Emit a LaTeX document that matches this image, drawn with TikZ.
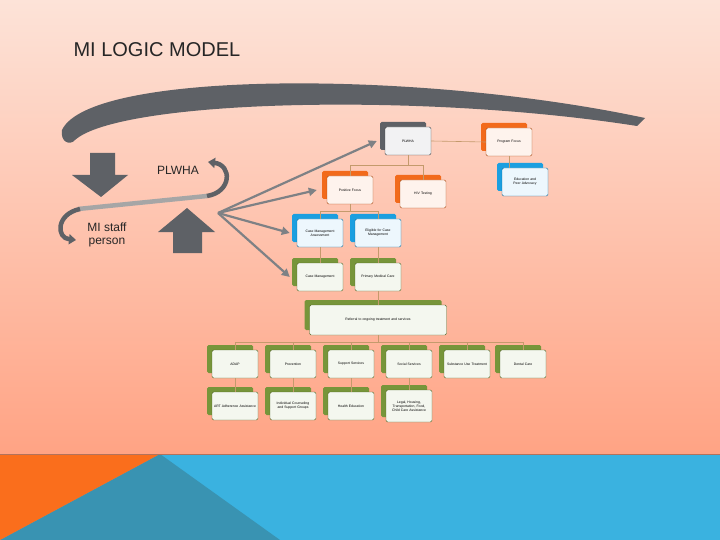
\documentclass[tikz,border=0pt]{standalone}
\usepackage{fontspec}
\setmainfont{Liberation Sans}
\usetikzlibrary{shadows,arrows.meta,calc}
\definecolor{bgtop}{HTML}{FDE3D8}
\definecolor{bgbot}{HTML}{FFA384}
\definecolor{cgray}{HTML}{5E6166}
\definecolor{corange}{HTML}{F26A1B}
\definecolor{cblue}{HTML}{1B9FE0}
\definecolor{cgreen}{HTML}{77953A}
\definecolor{tan}{HTML}{C49A6C}
\definecolor{sblue}{HTML}{3AB2E0}
\definecolor{dblue}{HTML}{3993B2}
\definecolor{sorange}{HTML}{FA6E1C}
\tikzset{
  bx/.style={draw=#1!70!black,line width=0.4pt,rounded corners=1.5pt,fill=white!92!#1,
    minimum width=46pt,minimum height=28pt,inner sep=1pt,align=center,text width=42pt,
    font=\fontsize{3.4}{4}\selectfont,
    copy shadow={shadow xshift=-5pt,shadow yshift=5pt,fill=#1,draw=none}},
  conn/.style={draw=tan,line width=0.6pt},
  fan/.style={draw=cgray!80,line width=2.2pt,-{Triangle[length=8pt,width=8pt]}},
  blk/.style={fill=cgray,draw=none}
}
\hyphenpenalty=10000
\begin{document}
\hyphenpenalty=10000
\begin{tikzpicture}[x=1pt,y=-1pt]
\useasboundingbox (0,0) rectangle (720,540);
\shade[top color=bgtop,bottom color=bgbot] (0,0) rectangle (720,454);
\fill[sblue] (0,454) rectangle (720,540);
\fill[dblue] (0,540) -- (160,454) -- (280,540) -- cycle;
\fill[sorange] (0,454) -- (160,454) -- (0,540) -- cycle;
\draw[draw=bgbot!70!black,line width=1pt] (0,454) -- (720,454);
\node[anchor=west,font=\fontsize{20}{24}\selectfont,text=black!85] (title) at (70,50) {MI LOGIC MODEL};

% big curve
\fill[cgray] (645,118) .. controls (420,70) and (90,70) .. (62,130)
  .. controls (60,142) and (70,146) .. (75,140)
  .. controls (120,100) and (420,92) .. (637,126) -- cycle;

% block arrows
\fill[blk] (90,153) -- (115,153) -- (115,175) -- (128,175) -- (101,197) -- (72,175) -- (90,175) -- cycle;
\fill[blk] (173,253) -- (202,253) -- (202,232) -- (215,232) -- (187,208) -- (158,232) -- (173,232) -- cycle;

% loop arrow
\draw[line width=4.5pt,draw=black!35] (78,209) -- (207,196);
\draw[line width=4.5pt,draw=cgray,-{Triangle[length=7pt,width=10pt]}] (207,196) .. controls (232,192) and (232,165) .. (208,162);
\draw[line width=4.5pt,draw=cgray,-{Triangle[length=7pt,width=10pt]}] (80,209) .. controls (56,214) and (56,238) .. (76,240);
\node[font=\fontsize{12}{14}\selectfont,text=black!85] (lp) at (178,170) {PLWHA};
\node[font=\fontsize{12}{13}\selectfont,text=black!85,align=center] (ls) at (107,235) {MI staff\\person};

% boxes
\node[bx=cgray] (plwha) at (408,141) {PLWHA};
\node[bx=corange] (prog) at (509,142) {Program Focus};
\node[bx=cblue] (edu) at (525,182) {Education and Peer Advocacy};
\node[bx=corange] (pos) at (350,190) {Positive Focus};
\node[bx=corange] (hiv) at (423,194) {HIV Testing};
\node[bx=cblue] (cma) at (320,233) {Case Management Assessment};
\node[bx=cblue] (elig) at (378,233) {Eligible for Case Management};
\node[bx=cgreen] (cm) at (320,277) {Case Management};
\node[bx=cgreen] (pmc) at (378,277) {Primary Medical Care};
\node[bx=cgreen,minimum width=137pt,text width=130pt,minimum height=30pt] (ref) at (378,320) {Referral to ongoing treatment and services};
\node[bx=cgreen] (r1a) at (235,364) {ADAP};
\node[bx=cgreen] (r1b) at (293,364) {Prevention};
\node[bx=cgreen] (r1c) at (351,364) {Support Services};
\node[bx=cgreen] (r1d) at (409,364) {Social Services};
\node[bx=cgreen] (r1e) at (467,364) {Substance Use Treatment};
\node[bx=cgreen] (r1f) at (523,364) {Dental Care};
\node[bx=cgreen] (r2a) at (235,406) {ART Adherence Assistance};
\node[bx=cgreen] (r2b) at (293,406) {Individual Counseling and Support Groups};
\node[bx=cgreen] (r2c) at (351,406) {Health Education};
\node[bx=cgreen,minimum height=32pt] (r2d) at (409,406) {Legal, Housing, Transportation, Food, Child Care Assistance};

% connectors
\draw[conn] (plwha.east) -- (prog.west);
\draw[conn] (prog.south) -- (prog.south |- edu.north);
\draw[conn] (plwha.south) -- ($(plwha.south)+(0,10)$) coordinate (b1);
\draw[conn] (pos.north) |- (b1) -| (hiv.north);
\draw[conn] (cma.north) -- ++(0,-7) -| (elig.north);
\draw[conn] (pos.south) -- ($(pos.south)+(0,7)$);
\draw[conn] (cma.south) -- (cm.north);
\draw[conn] (elig.south) -- (pmc.north);
\draw[conn] (pmc.south) -- (ref.north);
\draw[conn] (r1a.north) -- ++(0,-8) coordinate (b2) -| (r1f.north);
\foreach \n in {r1b,r1c,r1d,r1e} \draw[conn] (\n.north) -- (\n.north |- b2);
\draw[conn] (ref.south) -- (ref.south |- b2);
\foreach \a/\b in {r1a/r2a,r1b/r2b,r1c/r2c,r1d/r2d} \draw[conn] (\a.south) -- (\b.north);

% fan arrows
\coordinate (f) at (218,213);
\draw[fan] (f) -- ($(plwha.west)+(-8,0)$);
\draw[fan] (f) -- ($(pos.west)+(-10,0)$);
\draw[fan] (f) -- ($(cma.west)+(-7,0)$);
\draw[fan] (f) -- ($(cm.west)+(-7,0)$);
\end{tikzpicture}
\end{document}
